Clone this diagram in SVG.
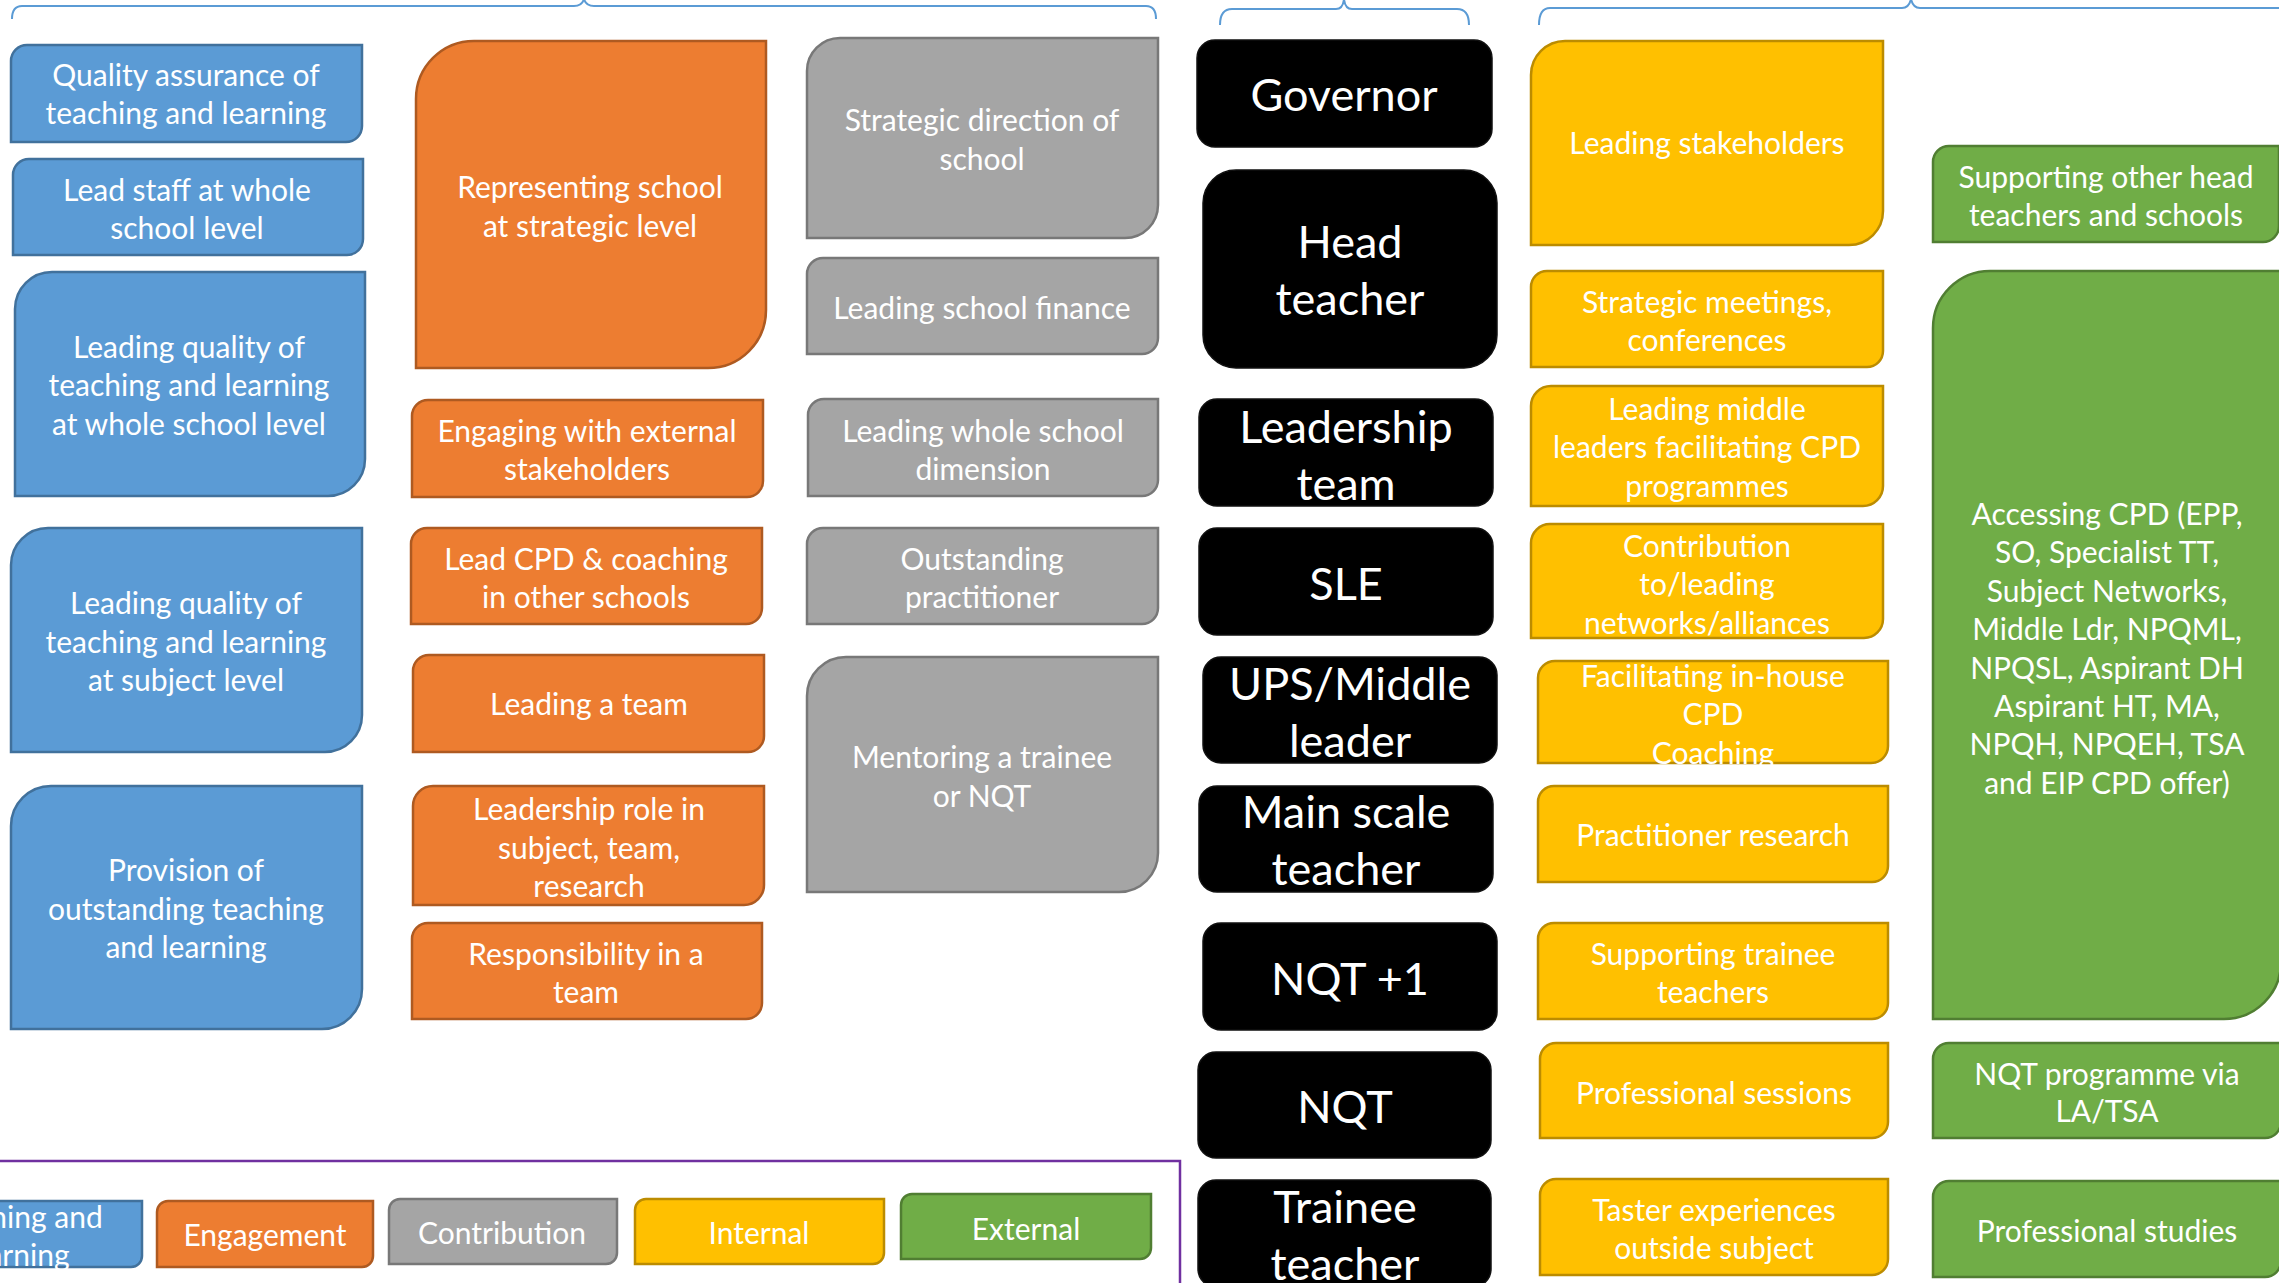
<svg xmlns="http://www.w3.org/2000/svg" width="2279" height="1283" viewBox="0 0 2279 1283">
<style>
text{font-family:Lato,"Open Sans","Liberation Sans",sans-serif;fill:#fff;text-anchor:middle;transform:translateY(2px)}
.t{font-size:30px}
.k{font-size:45px}
.blue{fill:#5B9BD5;stroke:#41719C;stroke-width:2.5}
.orange{fill:#ED7D31;stroke:#AE5A21;stroke-width:2.5}
.gray{fill:#A5A5A5;stroke:#787878;stroke-width:2.5}
.yellow{fill:#FFC000;stroke:#BC8C00;stroke-width:2.5}
.green{fill:#70AD47;stroke:#507E32;stroke-width:2.5}
.black{fill:#000;stroke:#111;stroke-width:1.5}
.brace{fill:none;stroke:#5B9BD5;stroke-width:2}
</style>
<g id="connectors">
<path class="brace" d="M12 19 Q12 6 22 6 L574 6 Q582 6 584 -1 Q586 6 594 6 L1146 6 Q1156 6 1156 19"/>
<path class="brace" d="M1220 25 Q1220 9 1232 9 L1336 9 Q1343 9 1344 -1 Q1345 9 1352 9 L1457 9 Q1469 9 1469 25"/>
<path class="brace" d="M1539 25 Q1539 8 1550 8 L1902 8 Q1909 8 1911 -1 Q1913 8 1920 8 L2290 8"/>
<path d="M0 1161 H1180 V1290" fill="none" stroke="#7030A0" stroke-width="2.5"/>
</g>
<!-- Blue column -->
<g id="quality-assurance"><path class="blue" d="M27 45 H362 V126 A16 16 0 0 1 346 142 H11 V61 A16 16 0 0 1 27 45 Z"/><text class="t" x="186" y="84">Quality assurance of</text><text class="t" x="186" y="122">teaching and learning</text></g>
<g id="lead-staff"><path class="blue" d="M29 159 H363 V239 A16 16 0 0 1 347 255 H13 V175 A16 16 0 0 1 29 159 Z"/><text class="t" x="187" y="199">Lead staff at whole</text><text class="t" x="187" y="237">school level</text></g>
<g id="leading-quality-whole"><path class="blue" d="M52 272 H365 V459 A37 37 0 0 1 328 496 H15 V309 A37 37 0 0 1 52 272 Z"/><text class="t" x="189" y="356">Leading quality of</text><text class="t" x="189" y="394">teaching and learning</text><text class="t" x="189" y="433">at whole school level</text></g>
<g id="leading-quality-subject"><path class="blue" d="M48 528 H362 V715 A37 37 0 0 1 325 752 H11 V565 A37 37 0 0 1 48 528 Z"/><text class="t" x="186" y="612">Leading quality of</text><text class="t" x="186" y="651">teaching and learning</text><text class="t" x="186" y="689">at subject level</text></g>
<g id="provision"><path class="blue" d="M51 786 H362 V989 A40 40 0 0 1 322 1029 H11 V826 A40 40 0 0 1 51 786 Z"/><text class="t" x="186" y="879">Provision of</text><text class="t" x="186" y="918">outstanding teaching</text><text class="t" x="186" y="956">and learning</text></g>
<!-- Orange column -->
<g id="representing"><path class="orange" d="M474 41 H766 V310 A58 58 0 0 1 708 368 H416 V99 A58 58 0 0 1 474 41 Z"/><text class="t" x="590" y="196">Representing school</text><text class="t" x="590" y="235">at strategic level</text></g>
<g id="engaging"><path class="orange" d="M428 400 H763 V481 A16 16 0 0 1 747 497 H412 V416 A16 16 0 0 1 428 400 Z"/><text class="t" x="587" y="440">Engaging with external</text><text class="t" x="587" y="478">stakeholders</text></g>
<g id="lead-cpd"><path class="orange" d="M427 528 H762 V608 A16 16 0 0 1 746 624 H411 V544 A16 16 0 0 1 427 528 Z"/><text class="t" x="586" y="568">Lead CPD &amp; coaching</text><text class="t" x="586" y="606">in other schools</text></g>
<g id="leading-team"><path class="orange" d="M429 655 H764 V736 A16 16 0 0 1 748 752 H413 V671 A16 16 0 0 1 429 655 Z"/><text class="t" x="589" y="713">Leading a team</text></g>
<g id="leadership-role"><path class="orange" d="M433 786 H764 V885 A20 20 0 0 1 744 905 H413 V806 A20 20 0 0 1 433 786 Z"/><text class="t" x="589" y="818">Leadership role in</text><text class="t" x="589" y="857">subject, team,</text><text class="t" x="589" y="895">research</text></g>
<g id="responsibility"><path class="orange" d="M428 923 H762 V1003 A16 16 0 0 1 746 1019 H412 V939 A16 16 0 0 1 428 923 Z"/><text class="t" x="586" y="963">Responsibility in a</text><text class="t" x="586" y="1001">team</text></g>
<!-- Gray column -->
<g id="strategic-direction"><path class="gray" d="M840 38 H1158 V205 A33 33 0 0 1 1125 238 H807 V71 A33 33 0 0 1 840 38 Z"/><text class="t" x="982" y="129">Strategic direction of</text><text class="t" x="982" y="168">school</text></g>
<g id="school-finance"><path class="gray" d="M823 258 H1158 V338 A16 16 0 0 1 1142 354 H807 V274 A16 16 0 0 1 823 258 Z"/><text class="t" x="982" y="317">Leading school finance</text></g>
<g id="whole-school-dimension"><path class="gray" d="M824 399 H1158 V480 A16 16 0 0 1 1142 496 H808 V415 A16 16 0 0 1 824 399 Z"/><text class="t" x="983" y="440">Leading whole school</text><text class="t" x="983" y="478">dimension</text></g>
<g id="outstanding-practitioner"><path class="gray" d="M823 528 H1158 V608 A16 16 0 0 1 1142 624 H807 V544 A16 16 0 0 1 823 528 Z"/><text class="t" x="982" y="568">Outstanding</text><text class="t" x="982" y="606">practitioner</text></g>
<g id="mentoring"><path class="gray" d="M846 657 H1158 V853 A39 39 0 0 1 1119 892 H807 V696 A39 39 0 0 1 846 657 Z"/><text class="t" x="982" y="766">Mentoring a trainee</text><text class="t" x="982" y="805">or NQT</text></g>
<!-- Black column -->
<g id="governor"><rect class="black" x="1197" y="40" width="295" height="107" rx="18"/><text class="k" x="1344" y="109">Governor</text></g>
<g id="head-teacher"><rect class="black" x="1203" y="170" width="294" height="198" rx="33"/><text class="k" x="1350" y="256">Head</text><text class="k" x="1350" y="313">teacher</text></g>
<g id="leadership-team"><rect class="black" x="1199" y="399" width="294" height="107" rx="18"/><text class="k" x="1346" y="441">Leadership</text><text class="k" x="1346" y="498">team</text></g>
<g id="sle"><rect class="black" x="1199" y="528" width="294" height="107" rx="18"/><text class="k" x="1346" y="598">SLE</text></g>
<g id="ups-middle-leader"><rect class="black" x="1203" y="657" width="294" height="106" rx="18"/><text class="k" x="1350" y="698">UPS/Middle</text><text class="k" x="1350" y="755">leader</text></g>
<g id="main-scale-teacher"><rect class="black" x="1199" y="786" width="294" height="106" rx="18"/><text class="k" x="1346" y="826">Main scale</text><text class="k" x="1346" y="883">teacher</text></g>
<g id="nqt-plus-1"><rect class="black" x="1203" y="923" width="294" height="107" rx="18"/><text class="k" x="1350" y="993">NQT +1</text></g>
<g id="nqt"><rect class="black" x="1198" y="1052" width="293" height="106" rx="18"/><text class="k" x="1345" y="1121">NQT</text></g>
<g id="trainee-teacher"><rect class="black" x="1198" y="1180" width="293" height="107" rx="18"/><text class="k" x="1345" y="1221">Trainee</text><text class="k" x="1345" y="1278">teacher</text></g>
<!-- Yellow column -->
<g id="leading-stakeholders"><path class="yellow" d="M1565 41 H1883 V211 A34 34 0 0 1 1849 245 H1531 V75 A34 34 0 0 1 1565 41 Z"/><text class="t" x="1707" y="152">Leading stakeholders</text></g>
<g id="strategic-meetings"><path class="yellow" d="M1547 271 H1883 V351 A16 16 0 0 1 1867 367 H1531 V287 A16 16 0 0 1 1547 271 Z"/><text class="t" x="1707" y="311">Strategic meetings,</text><text class="t" x="1707" y="349">conferences</text></g>
<g id="leading-middle-leaders"><path class="yellow" d="M1551 386 H1883 V486 A20 20 0 0 1 1863 506 H1531 V406 A20 20 0 0 1 1551 386 Z"/><text class="t" x="1707" y="418">Leading middle</text><text class="t" x="1707" y="456">leaders facilitating CPD</text><text class="t" x="1707" y="495">programmes</text></g>
<g id="contribution-networks"><path class="yellow" d="M1550 524 H1883 V619 A19 19 0 0 1 1864 638 H1531 V543 A19 19 0 0 1 1550 524 Z"/><text class="t" x="1707" y="555">Contribution</text><text class="t" x="1707" y="593">to/leading</text><text class="t" x="1707" y="632">networks/alliances</text></g>
<g id="facilitating-cpd"><path class="yellow" d="M1555 661 H1888 V746 A17 17 0 0 1 1871 763 H1538 V678 A17 17 0 0 1 1555 661 Z"/><text class="t" x="1713" y="685">Facilitating in-house</text><text class="t" x="1713" y="723">CPD</text><text class="t" x="1713" y="762">Coaching</text></g>
<g id="practitioner-research"><path class="yellow" d="M1554 786 H1888 V866 A16 16 0 0 1 1872 882 H1538 V802 A16 16 0 0 1 1554 786 Z"/><text class="t" x="1713" y="844">Practitioner research</text></g>
<g id="supporting-trainee"><path class="yellow" d="M1554 923 H1888 V1003 A16 16 0 0 1 1872 1019 H1538 V939 A16 16 0 0 1 1554 923 Z"/><text class="t" x="1713" y="963">Supporting trainee</text><text class="t" x="1713" y="1001">teachers</text></g>
<g id="professional-sessions"><path class="yellow" d="M1556 1043 H1888 V1122 A16 16 0 0 1 1872 1138 H1540 V1059 A16 16 0 0 1 1556 1043 Z"/><text class="t" x="1714" y="1102">Professional sessions</text></g>
<g id="taster-experiences"><path class="yellow" d="M1556 1179 H1888 V1259 A16 16 0 0 1 1872 1275 H1540 V1195 A16 16 0 0 1 1556 1179 Z"/><text class="t" x="1714" y="1219">Taster experiences</text><text class="t" x="1714" y="1257">outside subject</text></g>
<!-- Green column -->
<g id="supporting-heads"><path class="green" d="M1949 146 H2279 V226 A16 16 0 0 1 2263 242 H1933 V162 A16 16 0 0 1 1949 146 Z"/><text class="t" x="2106" y="186">Supporting other head</text><text class="t" x="2106" y="224">teachers and schools</text></g>
<g id="accessing-cpd"><path class="green" d="M1990 271 H2281 V962 A57 57 0 0 1 2224 1019 H1933 V328 A57 57 0 0 1 1990 271 Z"/><text class="t" x="2107" y="523">Accessing CPD (EPP,</text><text class="t" x="2107" y="561">SO, Specialist TT,</text><text class="t" x="2107" y="600">Subject Networks,</text><text class="t" x="2107" y="638">Middle Ldr, NPQML,</text><text class="t" x="2107" y="677">NPQSL, Aspirant DH</text><text class="t" x="2107" y="715">Aspirant HT, MA,</text><text class="t" x="2107" y="753">NPQH, NPQEH, TSA</text><text class="t" x="2107" y="792">and EIP CPD offer)</text></g>
<g id="nqt-programme"><path class="green" d="M1949 1043 H2281 V1122 A16 16 0 0 1 2265 1138 H1933 V1059 A16 16 0 0 1 1949 1043 Z"/><text class="t" x="2107" y="1083">NQT programme via</text><text class="t" x="2107" y="1120">LA/TSA</text></g>
<g id="professional-studies"><path class="green" d="M1949 1181 H2281 V1261 A16 16 0 0 1 2265 1277 H1933 V1197 A16 16 0 0 1 1949 1181 Z"/><text class="t" x="2107" y="1240">Professional studies</text></g>
<!-- Legend -->
<g id="legend">
<g id="legend-teaching"><path class="blue" d="M-97 1201 H142 V1256 A11 11 0 0 1 131 1267 H-108 V1212 A11 11 0 0 1 -97 1201 Z"/><text class="t" x="17" y="1226">Teaching and</text><text class="t" x="17" y="1264">learning</text></g>
<g id="legend-engagement"><path class="orange" d="M168 1201 H373 V1256 A11 11 0 0 1 362 1267 H157 V1212 A11 11 0 0 1 168 1201 Z"/><text class="t" x="265" y="1244">Engagement</text></g>
<g id="legend-contribution"><path class="gray" d="M400 1199 H617 V1253 A11 11 0 0 1 606 1264 H389 V1210 A11 11 0 0 1 400 1199 Z"/><text class="t" x="502" y="1242">Contribution</text></g>
<g id="legend-internal"><path class="yellow" d="M646 1199 H884 V1253 A11 11 0 0 1 873 1264 H635 V1210 A11 11 0 0 1 646 1199 Z"/><text class="t" x="759" y="1242">Internal</text></g>
<g id="legend-external"><path class="green" d="M912 1194 H1151 V1248 A11 11 0 0 1 1140 1259 H901 V1205 A11 11 0 0 1 912 1194 Z"/><text class="t" x="1026" y="1238">External</text></g>
</g>
</svg>
